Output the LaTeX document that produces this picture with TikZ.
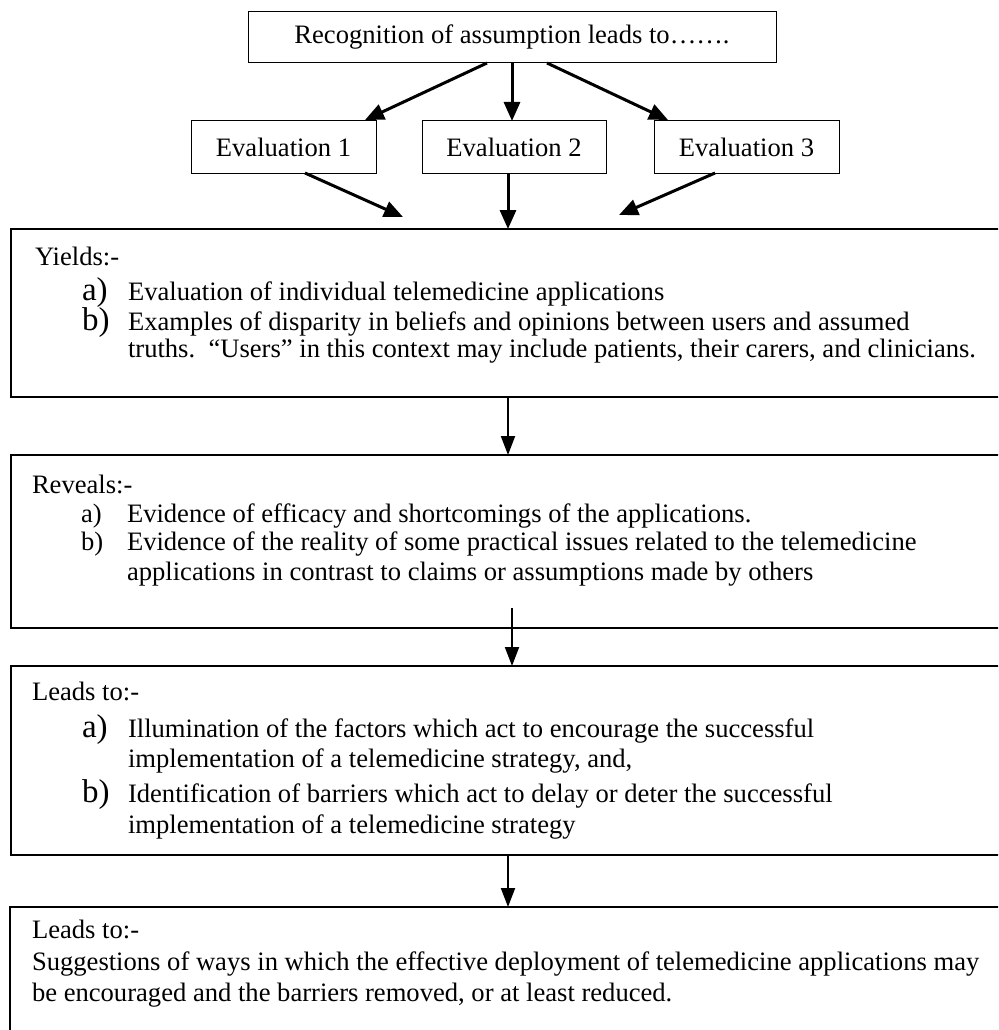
\documentclass[tikz,border=0pt]{standalone}
\usepackage{fontspec}
\setmainfont{Liberation Serif}
\usetikzlibrary{arrows.meta}
\tikzset{
  smallbox/.style={draw, line width=1pt, inner sep=0pt, outer sep=0pt, minimum height=52pt},
  bigbox/.style={draw, line width=1.6pt, anchor=north west, inner sep=0pt, outer sep=0pt, minimum width=1000pt},
  txt/.style={anchor=base west, inner sep=0pt, outer sep=0pt},
  lbl/.style={txt, font=\fontsize{33}{33}\selectfont},
  arr/.style={-{Triangle[length=19pt,width=16pt]}, line width=3pt},
  arrb/.style={-{Triangle[length=19pt,width=14pt]}, line width=2pt}
}
\begin{document}
\begin{tikzpicture}[x=1pt, y=-1pt, every node/.style={font=\fontsize{26.6}{30}\selectfont}]
\useasboundingbox (0,0) rectangle (998,1030);
\clip (0,0) rectangle (998,1030);
\fill[white] (0,0) rectangle (998,1030);

% top box and evaluations
\node[smallbox, minimum width=528pt, minimum height=51pt] (top) at (512,37.5) {Recognition of assumption leads to…….};
\node[smallbox, minimum width=185pt] (e1) at (283.5,147) {Evaluation 1};
\node[smallbox, minimum width=184pt] (e2) at (514,147) {Evaluation 2};
\node[smallbox, minimum width=185pt] (e3) at (746.5,147) {Evaluation 3};

% big boxes
\node[bigbox, minimum height=168pt] (yl) at (11,229) {};
\node[bigbox, minimum height=173pt] (rv) at (11,455) {};
\node[bigbox, minimum height=189pt] (ld) at (11,666) {};
\node[bigbox, minimum height=200pt] (fn) at (10,907) {};

% arrows from top
\draw[arr] ([xshift=-25pt]top.south) -- ([xshift=-11pt,yshift=1pt]e1.north east);
\draw[arr] (top.south) -- (top.south |- e2.north);
\draw[arr] ([xshift=35pt]top.south) -- ([xshift=14pt,yshift=1pt]e3.north west);

% arrows to yields box
\coordinate (y1) at (403,217);
\coordinate (y3) at (619,215);
\draw[arr] ([xshift=21.5pt]e1.south) -- (y1);
\draw[arr] ([xshift=-6pt]e2.south) -- ([xshift=-6pt]e2.south |- yl.north);
\draw[arr] ([xshift=-31.5pt]e3.south) -- (y3);

% arrows between big boxes
\coordinate (a1) at (508,397);
\draw[arrb] (a1) -- (a1 |- rv.north);
\coordinate (a2) at (512,608);
\draw[arrb] (a2) -- (a2 |- ld.north);
\coordinate (a3) at (508,855);
\draw[arrb] (a3) -- (a3 |- fn.north);

% Yields text
\node[txt] (yt0) at (35,265) {Yields:-};
\node[lbl] (yla) at (82,300) {a)};
\node[txt] (yta) at (128,300) {Evaluation of individual telemedicine applications};
\node[lbl] (ylb) at (82,330) {b)};
\node[txt] (ytb) at (128,330) {Examples of disparity in beliefs and opinions between users and assumed};
\node[txt] (ytc) at (128,357) {truths.\ \ “Users” in this context may include patients, their carers, and clinicians.};

% Reveals text
\node[txt] (rt0) at (32,493) {Reveals:-};
\node[txt] (rla) at (81,522) {a)};
\node[txt] (rta) at (127,522) {Evidence of efficacy and shortcomings of the applications.};
\node[txt] (rlb) at (81,550) {b)};
\node[txt] (rtb) at (127,550) {Evidence of the reality of some practical issues related to the telemedicine};
\node[txt] (rtc) at (127,580) {applications in contrast to claims or assumptions made by others};

% Leads text
\node[txt] (lt0) at (32,700) {Leads to:-};
\node[lbl] (lla) at (82,737) {a)};
\node[txt] (lta) at (128,737) {Illumination of the factors which act to encourage the successful};
\node[txt] (ltb) at (128,767) {implementation of a telemedicine strategy, and,};
\node[lbl] (llb) at (82,802) {b)};
\node[txt] (ltc) at (128,802) {Identification of barriers which act to delay or deter the successful};
\node[txt] (ltd) at (128,833) {implementation of a telemedicine strategy};

% Final text
\node[txt] (ft0) at (32,938) {Leads to:-};
\node[txt] (ft1) at (32,970) {Suggestions of ways in which the effective deployment of telemedicine applications may};
\node[txt] (ft2) at (32,1001) {be encouraged and the barriers removed, or at least reduced.};
\end{tikzpicture}
\end{document}
